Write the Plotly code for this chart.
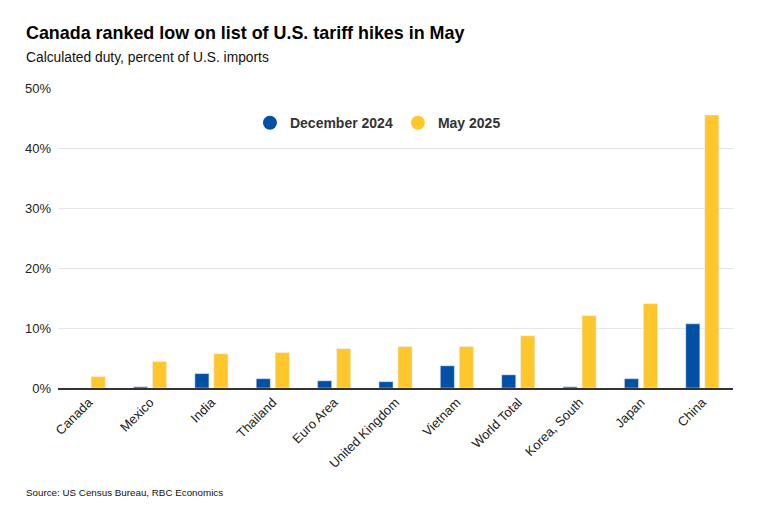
import plotly.graph_objects as go

categories = ["Canada", "Mexico", "India", "Thailand", "Euro Area", "United Kingdom",
              "Vietnam", "World Total", "Korea, South", "Japan", "China"]
dec_2024 = [0.0, 0.2, 2.4, 1.55, 1.2, 1.05, 3.7, 2.2, 0.2, 1.55, 10.7]
may_2025 = [1.9, 4.4, 5.7, 5.9, 6.55, 6.9, 6.9, 8.7, 12.05, 14.05, 45.5]
y_ticks = [0, 10, 20, 30, 40, 50]
y_tick_labels = ["0%", "10%", "20%", "30%", "40%", "50%"]

BLUE = "#0051A5"
YELLOW = "#FFC72C"
FONT = "Liberation Sans, Arial, sans-serif"

fig = go.Figure()
fig.add_trace(go.Bar(x=categories, y=dec_2024, name="December 2024",
                     marker_color=BLUE, showlegend=False))
fig.add_trace(go.Bar(x=categories, y=may_2025, name="May 2025",
                     marker_color=YELLOW, showlegend=False))
# legend entries with circle markers
fig.add_trace(go.Scatter(x=[None], y=[None], mode="markers", name="December 2024",
                         marker=dict(color=BLUE, size=14, symbol="circle")))
fig.add_trace(go.Scatter(x=[None], y=[None], mode="markers", name="May 2025",
                         marker=dict(color=YELLOW, size=14, symbol="circle")))

L, R, T, B = 58, 24, 88, 134
W, H = 757, 522

fig.update_layout(
    width=W, height=H,
    margin=dict(l=L, r=R, t=T, b=B),
    paper_bgcolor="white", plot_bgcolor="white",
    font=dict(family=FONT, color="#333333"),
    barmode="group", bargap=0.38, bargroupgap=0.26,
    legend=dict(orientation="h", x=0.474, xanchor="center", y=0.883, yanchor="middle",
                font=dict(size=14, color="#333333", family=FONT, weight="bold"),
                bgcolor="rgba(0,0,0,0)", itemwidth=30, traceorder="normal"),
    xaxis=dict(tickangle=-45, tickfont=dict(size=13, color="#222222"),
               showline=True, linecolor="#333333", linewidth=1.5,
               showgrid=False, ticks=""),
    yaxis=dict(range=[0, 50], tickvals=y_ticks, ticktext=y_tick_labels,
               tickfont=dict(size=13, color="#222222"),
               gridcolor="#e6e6e6", gridwidth=1, zeroline=False,
               showline=False, ticks="", ticklabelstandoff=6),
)

plot_h = H - T - B
plot_w = W - L - R
def px_to_paper(px_x, px_y):
    return (px_x - L) / plot_w, (H - B - px_y) / plot_h

texts = [
    ("<b>Canada ranked low on list of U.S. tariff hikes in May</b>", 17.9, "#000000", (24, 33)),
    ("Calculated duty, percent of U.S. imports", 13.8, "#111111", (24, 57)),
    ("Source: US Census Bureau, RBC Economics", 9.8, "#111111", (24, 492)),
]
for txt, size, col, (px, py) in texts:
    ax, ay = px_to_paper(px, py)
    fig.add_annotation(text=txt, xref="paper", yref="paper", x=ax, y=ay,
                       xanchor="left", yanchor="middle", showarrow=False,
                       font=dict(size=size, color=col, family=FONT))

fig.write_html("out.html", config={"displayModeBar": False},
               post_script="document.body.style.margin='0';document.body.style.padding='0';")
